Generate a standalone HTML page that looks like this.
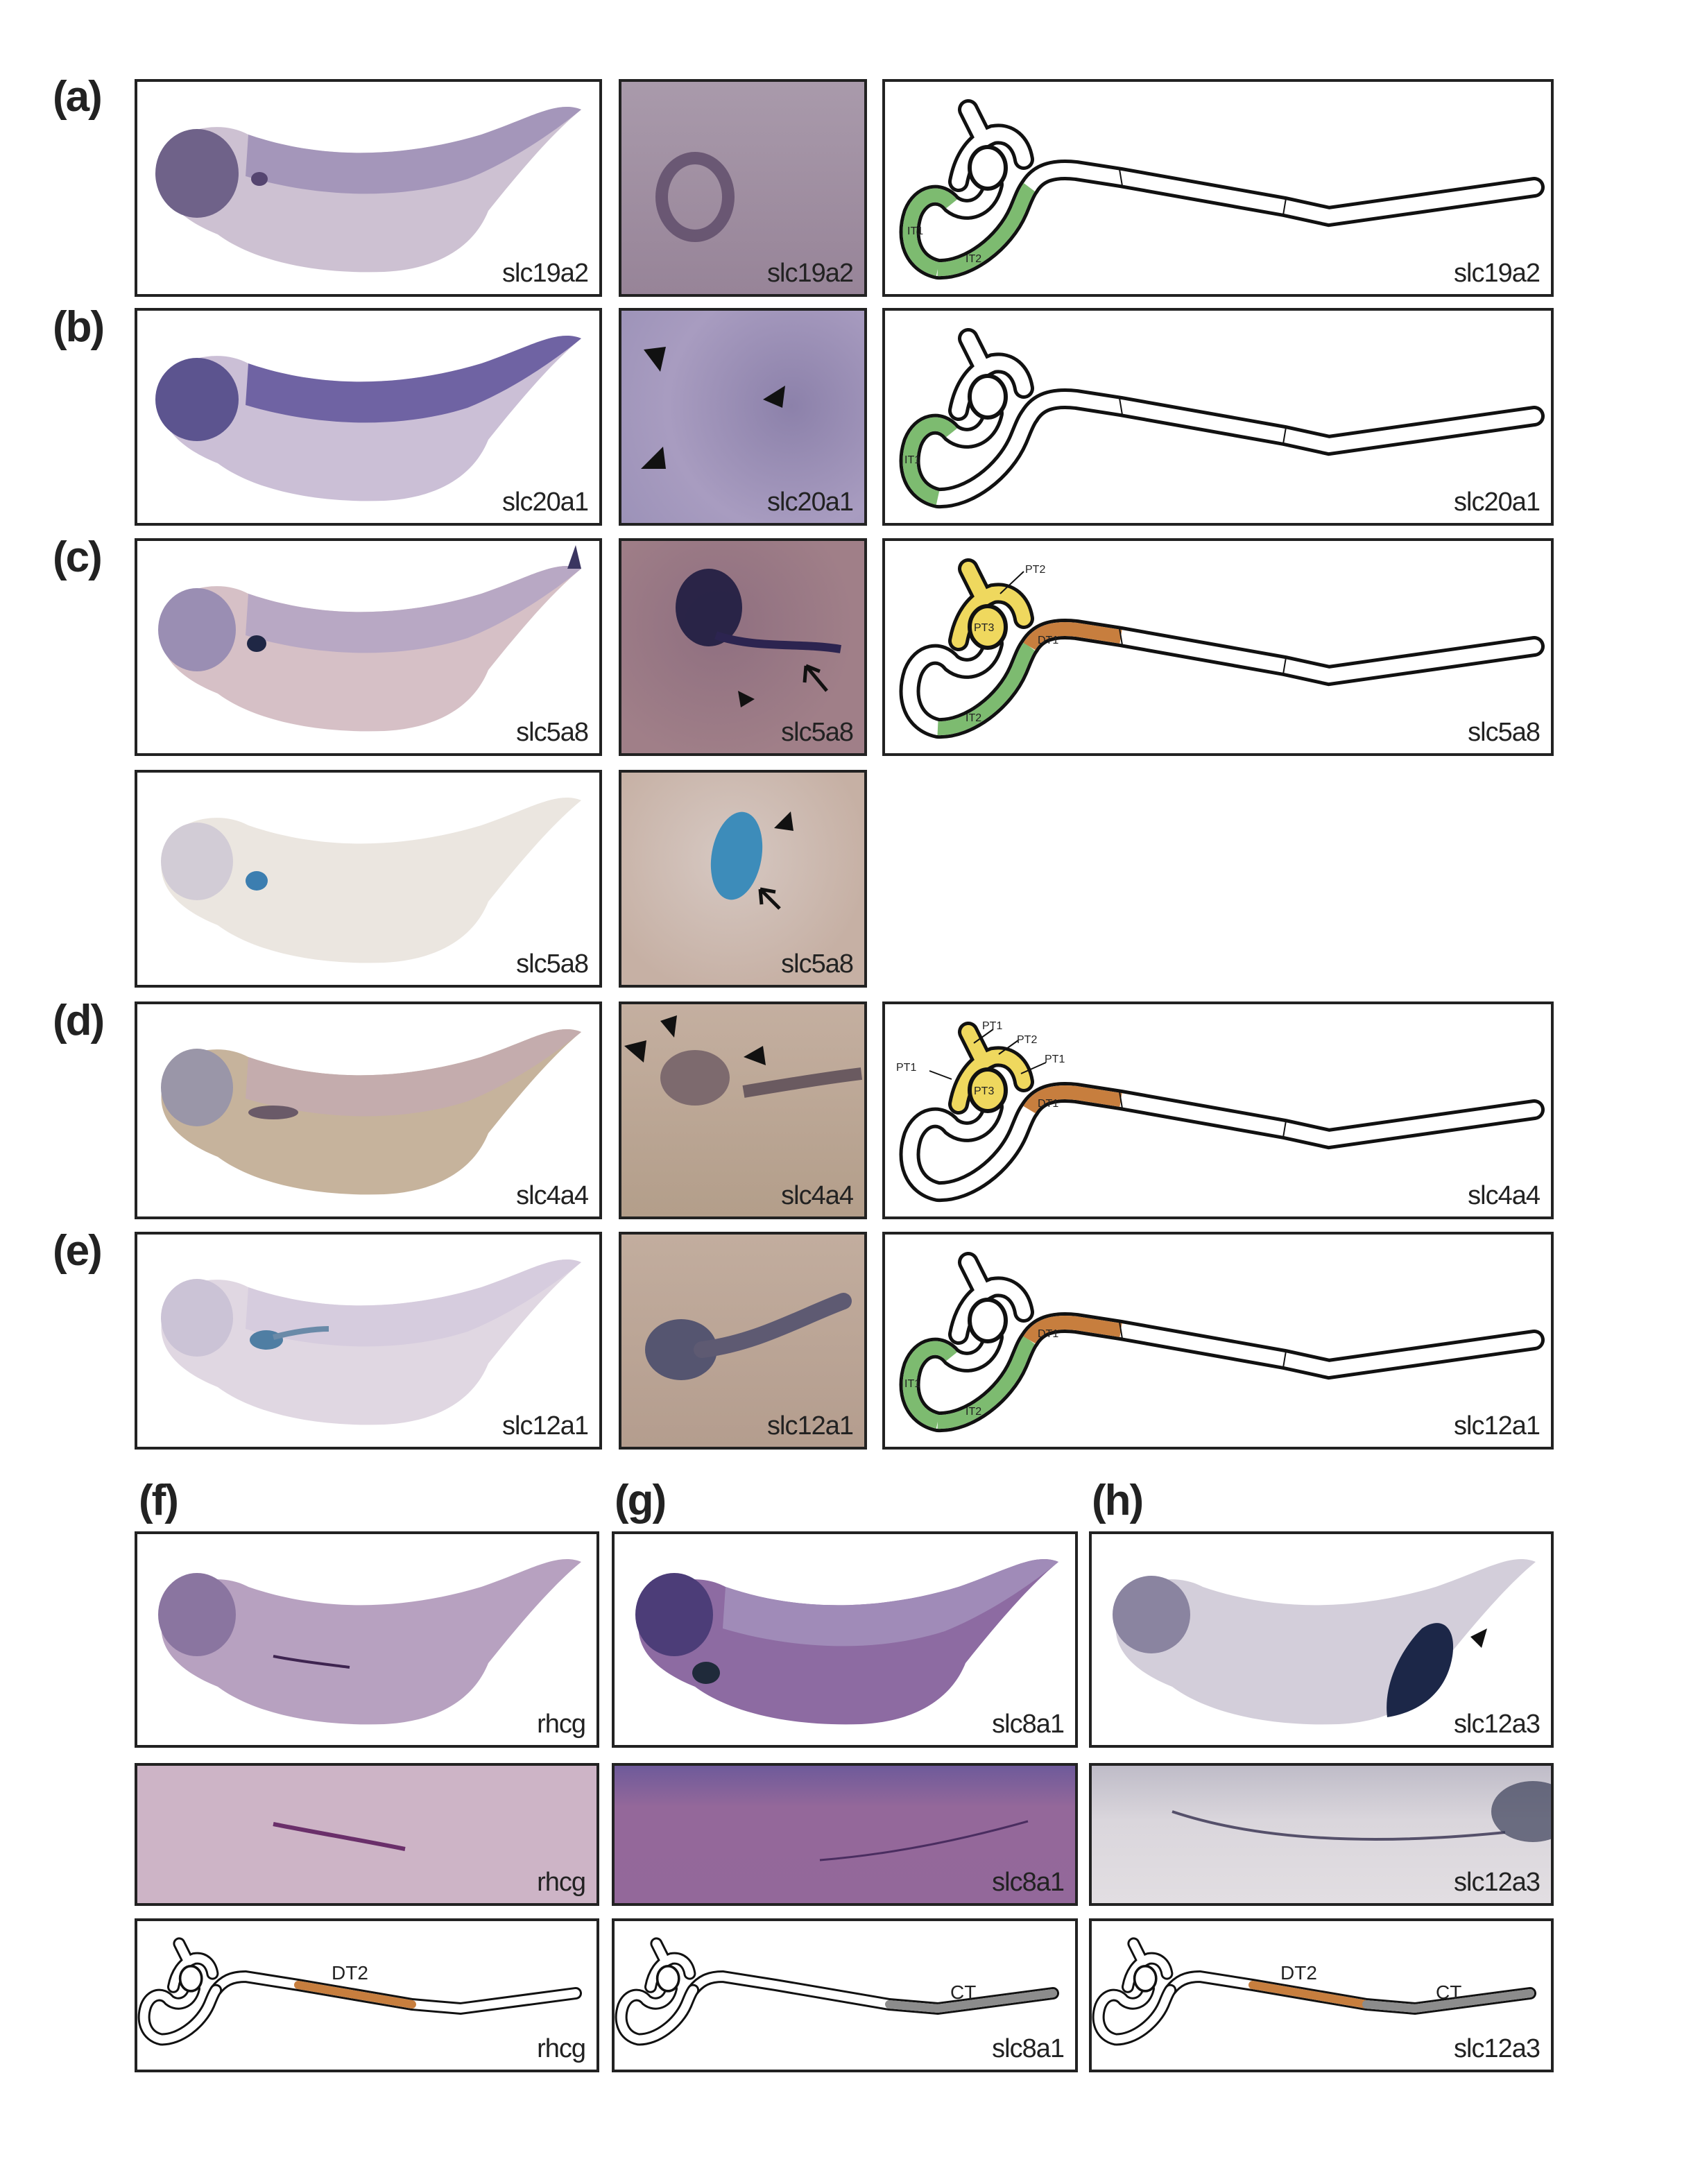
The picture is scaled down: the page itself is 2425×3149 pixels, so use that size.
<!DOCTYPE html>
<html><head><meta charset="utf-8">
<style>
html,body{margin:0;padding:0;background:#fff;}
body{width:2425px;height:3149px;overflow:hidden;position:relative;}
#w{position:absolute;left:0;top:0;width:1212.5px;height:1574.5px;transform:scale(2);transform-origin:0 0;font-family:"Liberation Sans",Arial,sans-serif;}
.p{position:absolute;box-sizing:border-box;border:2.5px solid #222;overflow:hidden;background:#fff;}
.p svg{position:absolute;left:-2.5px;top:-2.5px;}
.g{position:absolute;right:8px;bottom:3px;font-size:19px;color:#222;letter-spacing:-0.5px;}
.L{position:absolute;font-size:31px;font-weight:bold;color:#222;letter-spacing:-1px;}
.s{font-size:8px;fill:#222;font-family:"Liberation Sans",Arial,sans-serif;}
</style></head><body><div id="w">
<svg width="0" height="0" style="position:absolute">
<defs>
<path id="coil" d="M80,76 C76,94 60,98 50,90 C42,80 28,82 22,97 C16,115 22,133 40,137 C62,138 88,118 98,95 C101,88 103,82 106,78"/>
<path id="tailA" d="M106,78 C112,68 122,64 140,66 L172,71 L290,92 L322,99 L470,78"/>
<path id="it1" d="M50,90 C42,80 28,82 22,97 C16,115 22,133 40,137"/>
<path id="it2" d="M40,137 C62,138 88,118 98,95 C101,88 103,82 106,78"/>
<path id="dt1" d="M106,78 C112,68 122,64 140,66 L172,71"/>
<path id="ptarc" d="M55,74 C58,58 66,45 80,40 C92,38 100,46 102,58"/>
<path id="ptstub" d="M72,42 L62,22"/>
<ellipse id="pt3" cx="76" cy="64" rx="13" ry="15"/>
<path id="tailB" d="M58.6,51.8 C64,45 70,42 80,42 L118,48 L200,62 L235,65 L318,54"/>
<path id="emb" d="M20,62 C24,36 60,28 82,40 C140,60 200,55 250,40 C285,28 305,15 322,22 C300,40 275,70 255,95 C245,120 220,137 180,139 C120,141 80,127 60,112 C35,102 15,86 20,62Z"/>
</defs></svg>

<div class="L" style="left:38px;top:52px">(a)</div>
<div class="L" style="left:38px;top:218px">(b)</div>
<div class="L" style="left:38px;top:384px">(c)</div>
<div class="L" style="left:38px;top:718px">(d)</div>
<div class="L" style="left:38px;top:884px">(e)</div>
<div class="L" style="left:100px;top:1064px">(f)</div>
<div class="L" style="left:443px;top:1064px">(g)</div>
<div class="L" style="left:787px;top:1064px">(h)</div>

<!-- Row a -->
<div class="p" style="left:97px;top:57px;width:337px;height:157px"><svg width="337" height="157"><use href="#emb" fill="#cdc1d2"/><path d="M82,40 C140,60 200,55 250,40 C285,28 305,15 322,22 C300,40 270,60 240,72 C190,88 130,85 80,70Z" fill="#a496ba"/><ellipse cx="45" cy="68" rx="30" ry="32" fill="#6f6289"/><ellipse cx="90" cy="72" rx="6" ry="5" fill="#554570"/></svg><span class="g">slc19a2</span></div>
<div class="p" style="left:446px;top:57px;width:179px;height:157px;background:linear-gradient(180deg,#a99aab,#978498)"><svg width="179" height="157"><ellipse cx="55" cy="85" rx="24" ry="28" fill="none" stroke="#5d4a68" stroke-width="9" opacity=".8"/></svg><span class="g">slc19a2</span></div>
<div class="p" style="left:636px;top:57px;width:484px;height:157px"><svg width="484" height="157">
<g fill="none" stroke-linecap="round"><use href="#coil" stroke="#111" stroke-width="15"/><use href="#tailA" stroke="#111" stroke-width="15"/><use href="#coil" stroke="#fff" stroke-width="10"/><use href="#tailA" stroke="#fff" stroke-width="10"/>
<use href="#it1" stroke="#7dbb70" stroke-width="10" stroke-linecap="butt"/><use href="#it2" stroke="#7dbb70" stroke-width="10" stroke-linecap="butt"/>
<use href="#ptarc" stroke="#111" stroke-width="15"/><use href="#ptstub" stroke="#111" stroke-width="15"/><use href="#ptarc" stroke="#fff" stroke-width="10"/><use href="#ptstub" stroke="#fff" stroke-width="10"/></g>
<use href="#pt3" fill="#fff" stroke="#111" stroke-width="3"/>
<path d="M171,65 L173,77 M291,86 L289,98" stroke="#111" stroke-width="1"/>
<text class="s" x="18" y="112">IT1</text><text class="s" x="60" y="132">IT2</text></svg><span class="g">slc19a2</span></div>

<!-- Row b -->
<div class="p" style="left:97px;top:222px;width:337px;height:157px"><svg width="337" height="157"><use href="#emb" fill="#cbbfd6"/><path d="M82,40 C140,60 200,55 250,40 C285,28 305,15 322,22 C300,40 270,60 240,72 C190,88 130,85 80,70Z" fill="#6f63a3"/><ellipse cx="45" cy="66" rx="30" ry="30" fill="#5c548f"/></svg><span class="g">slc20a1</span></div>
<div class="p" style="left:446px;top:222px;width:179px;height:157px;background:radial-gradient(circle at 70% 45%,#8c81aa,#a89cc0 60%,#9c92b8)"><svg width="179" height="157"><path d="M18,30 L34,28 L30,46Z M104,66 L120,56 L118,72Z M16,116 L32,100 L34,116Z" fill="#111"/></svg><span class="g">slc20a1</span></div>
<div class="p" style="left:636px;top:222px;width:484px;height:157px"><svg width="484" height="157">
<g fill="none" stroke-linecap="round"><use href="#coil" stroke="#111" stroke-width="15"/><use href="#tailA" stroke="#111" stroke-width="15"/><use href="#coil" stroke="#fff" stroke-width="10"/><use href="#tailA" stroke="#fff" stroke-width="10"/>
<use href="#it1" stroke="#7dbb70" stroke-width="10" stroke-linecap="butt"/>
<use href="#ptarc" stroke="#111" stroke-width="15"/><use href="#ptstub" stroke="#111" stroke-width="15"/><use href="#ptarc" stroke="#fff" stroke-width="10"/><use href="#ptstub" stroke="#fff" stroke-width="10"/></g>
<use href="#pt3" fill="#fff" stroke="#111" stroke-width="3"/>
<path d="M171,65 L173,77 M291,86 L289,98" stroke="#111" stroke-width="1"/>
<text class="s" x="16" y="112">IT1</text></svg><span class="g">slc20a1</span></div>

<!-- Row c -->
<div class="p" style="left:97px;top:388px;width:337px;height:157px"><svg width="337" height="157"><use href="#emb" fill="#d6c0c6"/><path d="M82,40 C140,60 200,55 250,40 C285,28 305,15 322,22 C300,40 270,60 240,72 C190,88 130,85 80,70Z" fill="#b8a8c4"/><ellipse cx="45" cy="66" rx="28" ry="30" fill="#9a8eb3"/><ellipse cx="88" cy="76" rx="7" ry="6" fill="#1f2745"/><path d="M322,22 L318,5 L312,22Z" fill="#3a3560"/></svg><span class="g">slc5a8</span></div>
<div class="p" style="left:446px;top:388px;width:179px;height:157px;background:radial-gradient(circle at 40% 40%,#8f6f80,#a07f88 70%)"><svg width="179" height="157"><ellipse cx="65" cy="50" rx="24" ry="28" fill="#1e1c40" opacity=".9"/><path d="M70,70 C100,80 130,75 160,80" stroke="#2c2450" stroke-width="6" fill="none"/><path d="M86,110 L98,116 L88,122Z" fill="#111"/><path d="M150,110 L135,92 M135,92 L134,104 M135,92 L145,96" stroke="#111" stroke-width="2.5" fill="none"/></svg><span class="g">slc5a8</span></div>
<div class="p" style="left:636px;top:388px;width:484px;height:157px"><svg width="484" height="157">
<g fill="none" stroke-linecap="round"><use href="#coil" stroke="#111" stroke-width="15"/><use href="#tailA" stroke="#111" stroke-width="15"/><use href="#coil" stroke="#fff" stroke-width="10"/><use href="#tailA" stroke="#fff" stroke-width="10"/>
<use href="#it2" stroke="#7dbb70" stroke-width="10" stroke-linecap="butt"/><use href="#dt1" stroke="#c77e3e" stroke-width="10" stroke-linecap="butt"/>
<use href="#ptarc" stroke="#111" stroke-width="15"/><use href="#ptstub" stroke="#111" stroke-width="15"/><use href="#ptarc" stroke="#efd85e" stroke-width="10"/><use href="#ptstub" stroke="#efd85e" stroke-width="10"/></g>
<use href="#pt3" fill="#efd85e" stroke="#111" stroke-width="3"/>
<path d="M171,65 L173,77 M291,86 L289,98" stroke="#111" stroke-width="1"/>
<path d="M85,40 L102,24" stroke="#111" stroke-width="1"/>
<text class="s" x="103" y="25">PT2</text><text class="s" x="66" y="67">PT3</text><text class="s" x="112" y="76">DT1</text><text class="s" x="60" y="132">IT2</text></svg><span class="g">slc5a8</span></div>

<!-- Row c2 -->
<div class="p" style="left:97px;top:555px;width:337px;height:157px"><svg width="337" height="157"><use href="#emb" fill="#ebe6e0"/><ellipse cx="45" cy="66" rx="26" ry="28" fill="#d2ccd6"/><ellipse cx="88" cy="80" rx="8" ry="7" fill="#3c7eb0"/></svg><span class="g">slc5a8</span></div>
<div class="p" style="left:446px;top:555px;width:179px;height:157px;background:radial-gradient(circle at 45% 40%,#d6c8c2,#c6b0a4 75%)"><svg width="179" height="157"><ellipse cx="85" cy="62" rx="18" ry="32" fill="#3d8cba" transform="rotate(10 85 62)"/><path d="M112,42 L124,30 L126,44Z" fill="#111"/><path d="M116,100 L102,86 M102,86 L103,97 M102,86 L113,88" stroke="#111" stroke-width="2.5" fill="none"/></svg><span class="g">slc5a8</span></div>

<!-- Row d -->
<div class="p" style="left:97px;top:722px;width:337px;height:157px"><svg width="337" height="157"><use href="#emb" fill="#c6b39c"/><path d="M82,40 C140,60 200,55 250,40 C285,28 305,15 322,22 C300,40 270,60 240,72 C190,88 130,85 80,70Z" fill="#c4acad"/><ellipse cx="45" cy="62" rx="26" ry="28" fill="#9a96a8"/><ellipse cx="100" cy="80" rx="18" ry="5" fill="#6a5a68"/></svg><span class="g">slc4a4</span></div>
<div class="p" style="left:446px;top:722px;width:179px;height:157px;background:linear-gradient(180deg,#c4afa0,#b39e8a)"><svg width="179" height="157"><ellipse cx="55" cy="55" rx="25" ry="20" fill="#7d6a6e"/><path d="M90,65 C120,60 150,55 175,52" stroke="#6a5a60" stroke-width="9" fill="none"/><path d="M4,32 L20,28 L18,44Z M30,14 L42,10 L40,26Z M90,40 L104,32 L106,46Z" fill="#111"/></svg><span class="g">slc4a4</span></div>
<div class="p" style="left:636px;top:722px;width:484px;height:157px"><svg width="484" height="157">
<g fill="none" stroke-linecap="round"><use href="#coil" stroke="#111" stroke-width="15"/><use href="#tailA" stroke="#111" stroke-width="15"/><use href="#coil" stroke="#fff" stroke-width="10"/><use href="#tailA" stroke="#fff" stroke-width="10"/>
<use href="#dt1" stroke="#c77e3e" stroke-width="10" stroke-linecap="butt"/>
<use href="#ptarc" stroke="#111" stroke-width="15"/><use href="#ptstub" stroke="#111" stroke-width="15"/><use href="#ptarc" stroke="#efd85e" stroke-width="10"/><use href="#ptstub" stroke="#efd85e" stroke-width="10"/></g>
<use href="#pt3" fill="#efd85e" stroke="#111" stroke-width="3"/>
<path d="M171,65 L173,77 M291,86 L289,98" stroke="#111" stroke-width="1"/>
<path d="M66,30 L80,20 M84,38 L98,28 M100,52 L118,44 M34,50 L50,56" stroke="#111" stroke-width="1"/>
<text class="s" x="72" y="20">PT1</text><text class="s" x="97" y="30">PT2</text><text class="s" x="117" y="44">PT1</text><text class="s" x="10" y="50">PT1</text><text class="s" x="66" y="67">PT3</text><text class="s" x="112" y="76">DT1</text></svg><span class="g">slc4a4</span></div>

<!-- Row e -->
<div class="p" style="left:97px;top:888px;width:337px;height:157px"><svg width="337" height="157"><use href="#emb" fill="#e0d7e2"/><path d="M82,40 C140,60 200,55 250,40 C285,28 305,15 322,22 C300,40 270,60 240,72 C190,88 130,85 80,70Z" fill="#d6ccde"/><ellipse cx="45" cy="62" rx="26" ry="28" fill="#cbc3d6"/><ellipse cx="95" cy="78" rx="12" ry="7" fill="#4f7ea3"/><path d="M100,76 C115,72 130,70 140,70" stroke="#6a8aa8" stroke-width="4" fill="none"/></svg><span class="g">slc12a1</span></div>
<div class="p" style="left:446px;top:888px;width:179px;height:157px;background:linear-gradient(180deg,#c2ad9e,#b49d8e)"><svg width="179" height="157"><ellipse cx="45" cy="85" rx="26" ry="22" fill="#555570"/><path d="M60,85 C100,80 130,62 162,50" stroke="#5e5a72" stroke-width="12" fill="none" stroke-linecap="round"/></svg><span class="g">slc12a1</span></div>
<div class="p" style="left:636px;top:888px;width:484px;height:157px"><svg width="484" height="157">
<g fill="none" stroke-linecap="round"><use href="#coil" stroke="#111" stroke-width="15"/><use href="#tailA" stroke="#111" stroke-width="15"/><use href="#coil" stroke="#fff" stroke-width="10"/><use href="#tailA" stroke="#fff" stroke-width="10"/>
<use href="#it1" stroke="#7dbb70" stroke-width="10" stroke-linecap="butt"/><use href="#it2" stroke="#7dbb70" stroke-width="10" stroke-linecap="butt"/><use href="#dt1" stroke="#c77e3e" stroke-width="10" stroke-linecap="butt"/>
<use href="#ptarc" stroke="#111" stroke-width="15"/><use href="#ptstub" stroke="#111" stroke-width="15"/><use href="#ptarc" stroke="#fff" stroke-width="10"/><use href="#ptstub" stroke="#fff" stroke-width="10"/></g>
<use href="#pt3" fill="#fff" stroke="#111" stroke-width="3"/>
<path d="M171,65 L173,77 M291,86 L289,98" stroke="#111" stroke-width="1"/>
<text class="s" x="16" y="112">IT1</text><text class="s" x="60" y="132">IT2</text><text class="s" x="112" y="76">DT1</text></svg><span class="g">slc12a1</span></div>

<!-- Bottom row 1 -->
<div class="p" style="left:97px;top:1104px;width:335px;height:156px"><svg width="335" height="156"><use href="#emb" fill="#b7a1c0"/><ellipse cx="45" cy="60" rx="28" ry="30" fill="#8a75a0"/><path d="M100,90 C120,94 140,96 155,98" stroke="#3e2450" stroke-width="2" fill="none"/></svg><span class="g">rhcg</span></div>
<div class="p" style="left:441px;top:1104px;width:336px;height:156px"><svg width="336" height="156"><use href="#emb" fill="#8d6ba2"/><path d="M82,40 C140,60 200,55 250,40 C285,28 305,15 322,22 C300,40 270,60 240,72 C190,88 130,85 80,70Z" fill="#a08bb8"/><ellipse cx="45" cy="60" rx="28" ry="30" fill="#4c3d78"/><ellipse cx="68" cy="102" rx="10" ry="8" fill="#1f2a3a"/></svg><span class="g">slc8a1</span></div>
<div class="p" style="left:785px;top:1104px;width:335px;height:156px"><svg width="335" height="156"><use href="#emb" fill="#d3ceda"/><ellipse cx="45" cy="60" rx="28" ry="28" fill="#8a84a0"/><path d="M240,70 C255,60 265,70 262,90 C258,115 240,130 215,134 C212,110 225,85 240,70Z" fill="#1c2748"/><path d="M275,76 L287,70 L283,84Z" fill="#111"/></svg><span class="g">slc12a3</span></div>

<!-- Bottom row 2 -->
<div class="p" style="left:97px;top:1271px;width:335px;height:103px;background:#cdb4c6"><svg width="335" height="103"><path d="M100,44 C130,50 160,55 195,62" stroke="#6a2f6a" stroke-width="3" fill="none"/></svg><span class="g">rhcg</span></div>
<div class="p" style="left:441px;top:1271px;width:336px;height:103px;background:linear-gradient(180deg,#6e5a9a,#94689a 30%,#93689a)"><svg width="336" height="103"><path d="M150,70 C200,66 250,56 300,42" stroke="#4a2d60" stroke-width="1.5" fill="none"/></svg><span class="g">slc8a1</span></div>
<div class="p" style="left:785px;top:1271px;width:335px;height:103px;background:linear-gradient(180deg,#bfbcc8,#dad6dc 40%,#e2dee2)"><svg width="335" height="103"><path d="M60,35 C120,55 200,60 300,50" stroke="#55506a" stroke-width="2" fill="none"/><ellipse cx="320" cy="35" rx="30" ry="22" fill="#3a3e58" opacity=".7"/></svg><span class="g">slc12a3</span></div>

<!-- Bottom row 3 -->
<div class="p" style="left:97px;top:1383px;width:335px;height:111px"><svg width="335" height="111">
<g fill="none" stroke-linecap="round"><use href="#tailB" stroke="#111" stroke-width="9"/><use href="#tailB" stroke="#fff" stroke-width="6"/><path d="M118,48 L200,62" stroke="#c77e3e" stroke-width="6"/>
<g transform="translate(-5,5) scale(0.6)"><use href="#coil" stroke="#111" stroke-width="15"/><use href="#coil" stroke="#fff" stroke-width="10"/><use href="#ptarc" stroke="#111" stroke-width="15"/><use href="#ptstub" stroke="#111" stroke-width="15"/><use href="#ptarc" stroke="#fff" stroke-width="10"/><use href="#ptstub" stroke="#fff" stroke-width="10"/><use href="#pt3" fill="#fff" stroke="#111" stroke-width="3"/></g></g>
<text x="142" y="44" style="font-size:14px;fill:#222">DT2</text></svg><span class="g">rhcg</span></div>
<div class="p" style="left:441px;top:1383px;width:336px;height:111px"><svg width="336" height="111">
<g fill="none" stroke-linecap="round"><use href="#tailB" stroke="#111" stroke-width="9"/><use href="#tailB" stroke="#fff" stroke-width="6"/><path d="M200,62 L235,65 L318,54" stroke="#8c8c8c" stroke-width="6"/>
<g transform="translate(-5,5) scale(0.6)"><use href="#coil" stroke="#111" stroke-width="15"/><use href="#coil" stroke="#fff" stroke-width="10"/><use href="#ptarc" stroke="#111" stroke-width="15"/><use href="#ptstub" stroke="#111" stroke-width="15"/><use href="#ptarc" stroke="#fff" stroke-width="10"/><use href="#ptstub" stroke="#fff" stroke-width="10"/><use href="#pt3" fill="#fff" stroke="#111" stroke-width="3"/></g></g>
<text x="244" y="58" style="font-size:14px;fill:#222">CT</text></svg><span class="g">slc8a1</span></div>
<div class="p" style="left:785px;top:1383px;width:335px;height:111px"><svg width="335" height="111">
<g fill="none" stroke-linecap="round"><use href="#tailB" stroke="#111" stroke-width="9"/><use href="#tailB" stroke="#fff" stroke-width="6"/><path d="M118,48 L200,62" stroke="#c77e3e" stroke-width="6"/><path d="M200,62 L235,65 L318,54" stroke="#8c8c8c" stroke-width="6"/>
<g transform="translate(-5,5) scale(0.6)"><use href="#coil" stroke="#111" stroke-width="15"/><use href="#coil" stroke="#fff" stroke-width="10"/><use href="#ptarc" stroke="#111" stroke-width="15"/><use href="#ptstub" stroke="#111" stroke-width="15"/><use href="#ptarc" stroke="#fff" stroke-width="10"/><use href="#ptstub" stroke="#fff" stroke-width="10"/><use href="#pt3" fill="#fff" stroke="#111" stroke-width="3"/></g></g>
<text x="138" y="44" style="font-size:14px;fill:#222">DT2</text><text x="250" y="58" style="font-size:14px;fill:#222">CT</text></svg><span class="g">slc12a3</span></div>

</div></body></html>
